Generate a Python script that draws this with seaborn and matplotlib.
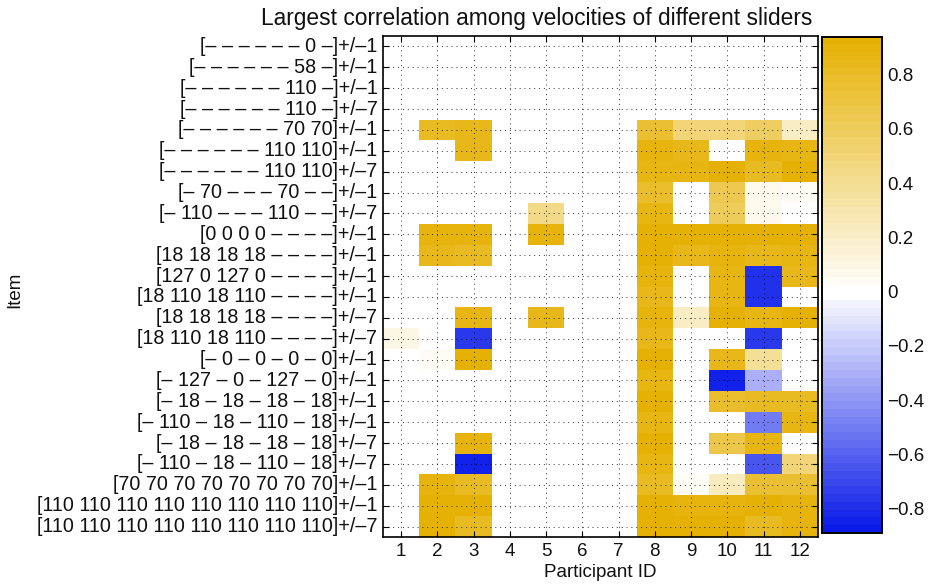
import numpy as np
import pandas as pd
import matplotlib
matplotlib.use("Agg")
import matplotlib.pyplot as plt
from matplotlib.colors import ListedColormap
import seaborn as sns

items = [
    "[– – – – – – 0 –]+/–1",
    "[– – – – – – 58 –]+/–1",
    "[– – – – – – 110 –]+/–1",
    "[– – – – – – 110 –]+/–7",
    "[– – – – – – 70 70]+/–1",
    "[– – – – – – 110 110]+/–1",
    "[– – – – – – 110 110]+/–7",
    "[– 70 – – – 70 – –]+/–1",
    "[– 110 – – – 110 – –]+/–7",
    "[0 0 0 0 – – – –]+/–1",
    "[18 18 18 18 – – – –]+/–1",
    "[127 0 127 0 – – – –]+/–1",
    "[18 110 18 110 – – – –]+/–1",
    "[18 18 18 18 – – – –]+/–7",
    "[18 110 18 110 – – – –]+/–7",
    "[– 0 – 0 – 0 – 0]+/–1",
    "[– 127 – 0 – 127 – 0]+/–1",
    "[– 18 – 18 – 18 – 18]+/–1",
    "[– 110 – 18 – 110 – 18]+/–1",
    "[– 18 – 18 – 18 – 18]+/–7",
    "[– 110 – 18 – 110 – 18]+/–7",
    "[70 70 70 70 70 70 70 70]+/–1",
    "[110 110 110 110 110 110 110 110]+/–1",
    "[110 110 110 110 110 110 110 110]+/–7",
]

participants = [str(i) for i in range(1, 13)]

values = [
    [0, 0, 0, 0, 0, 0, 0, 0, 0, 0, 0, 0],
    [0, 0, 0, 0, 0, 0, 0, 0, 0, 0, 0, 0],
    [0, 0, 0, 0, 0, 0, 0, 0, 0, 0, 0, 0],
    [0, 0, 0, 0, 0, 0, 0, 0, 0, 0, 0, 0],
    [0, 0.80, 0.85, 0, 0, 0, 0, 0.75, 0.50, 0.50, 0.58, 0.22],
    [0, 0, 0.85, 0, 0, 0, 0, 0.90, 0.85, 0, 0.90, 0.88],
    [0, 0, 0, 0, 0, 0, 0, 0.88, 0.88, 0.92, 0.82, 0.93],
    [0, 0, 0, 0, 0, 0, 0, 0.78, 0, 0.65, 0.06, 0.04],
    [0, 0, 0, 0, 0.45, 0, 0, 0.88, 0, 0.62, 0.08, 0],
    [0, 0.90, 0.90, 0, 0.90, 0, 0, 0.94, 0.94, 0.93, 0.93, 0.92],
    [0, 0.85, 0.80, 0, 0, 0, 0, 0.93, 0.85, 0.90, 0.85, 0.88],
    [0, 0, 0, 0, 0, 0, 0, 0.90, 0, 0.88, -0.80, 0.84],
    [0, 0, 0, 0, 0, 0, 0, 0.83, 0, 0.88, -0.80, 0],
    [0, 0, 0.88, 0, 0.84, 0, 0, 0.90, 0.22, 0.92, 0.88, 0.92],
    [0.10, 0, -0.75, 0, 0, 0, 0, 0.84, 0, 0, -0.75, 0],
    [0, 0.04, 0.92, 0, 0, 0, 0, 0.92, 0, 0.85, 0.38, 0],
    [0, 0, 0, 0, 0, 0, 0, 0.86, 0, -0.85, -0.30, 0],
    [0, 0, 0, 0, 0, 0, 0, 0.92, 0, 0.78, 0.80, 0.82],
    [0, 0, 0, 0, 0, 0, 0, 0.88, 0, 0, -0.50, 0.88],
    [0, 0, 0.90, 0, 0, 0, 0, 0.93, 0, 0.68, 0.88, 0],
    [0, 0, -0.85, 0, 0, 0, 0, 0.87, 0, 0, -0.65, 0.50],
    [0, 0.90, 0.80, 0, 0, 0, 0, 0.80, 0.04, 0.25, 0.75, 0.75],
    [0, 0.92, 0.92, 0, 0, 0, 0, 0.93, 0.90, 0.90, 0.94, 0.90],
    [0, 0.92, 0.82, 0, 0, 0, 0, 0.93, 0.92, 0.92, 0.82, 0.90],
]

vmin, vmax = -0.89, 0.94
cbar_ticks = [-0.8, -0.6, -0.4, -0.2, 0, 0.2, 0.4, 0.6, 0.8]
cbar_labels = ["−0.8", "−0.6", "−0.4", "−0.2", "0", "0.2", "0.4", "0.6", "0.8"]

sns.set_theme(style="white")
plt.rcParams["font.family"] = ["Liberation Sans", "DejaVu Sans"]
plt.rcParams["axes.unicode_minus"] = True

# discrete blue-white-gold colormap (64 levels), white around zero
blue = np.array([5, 22, 232]) / 255.0
white = np.array([1.0, 1.0, 1.0])
gold = np.array([229, 176, 0]) / 255.0
n = 64
cols = []
for i in range(n):
    v = vmin + (i + 0.5) / n * (vmax - vmin)
    if abs(v) < 0.02:
        c = white
    elif v < 0:
        t = min(1.0, -v / abs(vmin))
        c = white + (blue - white) * t
    else:
        t = min(1.0, v / vmax)
        c = white + (gold - white) * t
    cols.append(c)
cmap = ListedColormap(cols)

df = pd.DataFrame(values, index=items, columns=participants)

fig = plt.figure(figsize=(9.29, 5.84), dpi=100)
ax = fig.add_axes([383 / 929, 1 - 537 / 584, (818 - 383) / 929, (537 - 36) / 584])
cax = fig.add_axes([822 / 929, 1 - 533 / 584, (882 - 822) / 929, (533 - 36.5) / 584])

sns.heatmap(df, ax=ax, cbar_ax=cax, cmap=cmap, vmin=vmin, vmax=vmax,
            cbar_kws={"ticks": cbar_ticks})

fs = 13.5
ax.set_xticks(np.arange(len(participants)) + 0.5)
ax.set_xticklabels(participants, rotation=0, fontsize=fs)
ax.set_yticks(np.arange(len(items)) + 0.5)
ax.set_yticklabels(items, rotation=0, fontsize=14.2)
ax.tick_params(axis="both", which="both", direction="in", length=4, width=0.8,
               color="black", top=True, right=True, bottom=True, left=True,
               labelcolor="#111111", pad=4)
ax.set_axisbelow(False)
ax.grid(True, color="black", linestyle=(0, (1, 4)), linewidth=0.7, alpha=0.8)
for s in ax.spines.values():
    s.set_visible(True)
    s.set_color("black")
    s.set_linewidth(1.2)
ax.set_xlabel("Participant ID", fontsize=fs, color="#111111", labelpad=3)
ax.set_ylabel("")
fig.text(15 / 929, 1 - 290 / 584, "Item", rotation=90, fontsize=fs,
         ha="center", va="center", color="#111111")

fig.text(537 / 929, 1 - 18 / 584,
         "Largest correlation among velocities of different sliders",
         fontsize=16.4, ha="center", va="center", color="#111111")

cax.tick_params(direction="in", length=4, width=0.8, color="black",
                labelsize=fs, labelcolor="#111111", right=True, left=True)
cax.set_yticklabels(cbar_labels)
for s in cax.spines.values():
    s.set_visible(True)
    s.set_color("black")
    s.set_linewidth(1.2)

fig.savefig("out.png", dpi=100)
